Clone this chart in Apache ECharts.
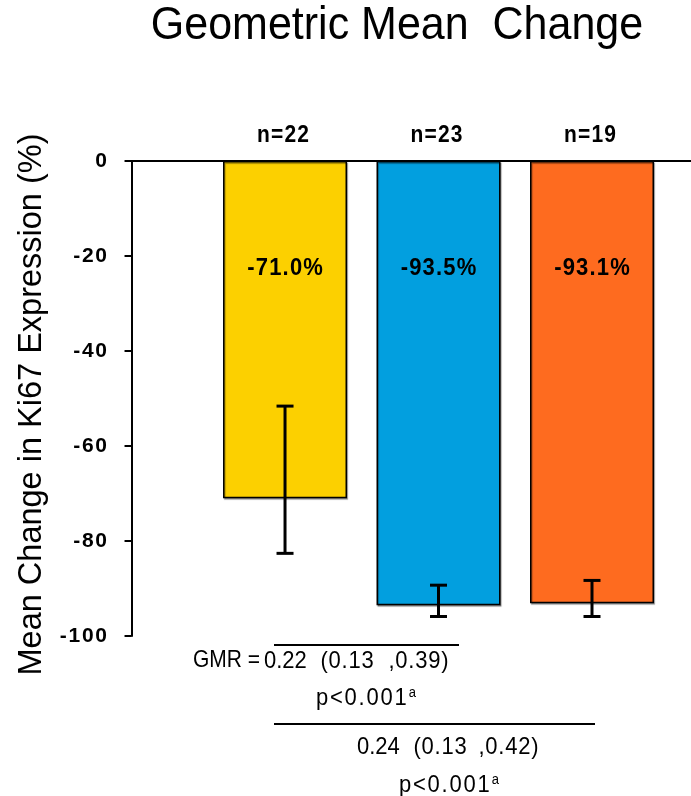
<!DOCTYPE html>
<html><head><meta charset="utf-8">
<script src="https://cdn.jsdelivr.net/npm/echarts@6.0.0/dist/echarts.min.js"></script>
<style>html,body{margin:0;padding:0;background:#fff}#c{width:691px;height:796px}</style>
</head><body><div id="c"></div>
<script>
// ---- data ----
const groupPositions = [1, 2, 3];
const meanChange = [-71.0, -93.5, -93.1];
const errUpper = [-51.6, -89.3, -88.3];
const errLower = [-82.6, -95.9, -95.9];
const sampleSizes = [22, 23, 19];
const barColors = ['#FCD000', '#029FDF', '#FE6B1F'];
const yTickValues = [0, -20, -40, -60, -80, -100];
const titleText = 'Geometric Mean  Change';
const yAxisTitle = 'Mean Change in Ki67 Expression (%)';
const gmr1 = ['GMR =', '0.22', '(0.13', ',0.39)'];
const gmr2 = ['0.24', '(0.13', ',0.42)'];
const pText = 'p<0.001';
const pSup = 'a';

// ---- helpers ----
const FONT = "'Liberation Sans', Arial, sans-serif";
const STRETCH = 1.12;
function spaced(str, key) {
  return str.split('').map(c => '{' + key + '|' + c + '}').join('');
}
function richStyle(size, weight, ls) {
  return { fontSize: size, fontWeight: weight, fontFamily: FONT, color: '#000', padding: [0, ls / 2] };
}

const chart = echarts.init(document.getElementById('c'), null, { renderer: 'canvas' });

const barData = groupPositions.map((x, i) => ({ value: [x, meanChange[i]], itemStyle: { color: barColors[i] } }));
const errData = groupPositions.map((x, i) => [x, errUpper[i], errLower[i]]);
const labelData = groupPositions.map((x, i) => [x, meanChange[i], sampleSizes[i]]);

function annText(x, y, text, ls, size) {
  return {
    type: 'text', x: x, y: y, scaleY: STRETCH,
    style: { text: spaced(text, 'a'), rich: { a: richStyle(size || 22, 'normal', ls || 0) }, align: 'left', verticalAlign: 'middle' }
  };
}
function pAnn(x, y) {
  return {
    type: 'text', x: x, y: y, scaleY: STRETCH,
    style: {
      text: spaced(pText, 'p') + '{sup|' + pSup + '}',
      rich: { p: richStyle(22, 'normal', 1.8), sup: { fontSize: 13, fontFamily: FONT, color: '#000', verticalAlign: 'top', padding: [0, 0, 0, 1] } },
      align: 'left', verticalAlign: 'middle'
    }
  };
}

const option = {
  backgroundColor: '#fff',
  animation: false,
  grid: { left: 130, right: 0, top: 161, bottom: 160 },
  xAxis: {
    type: 'value', min: -0.01, max: 3.645, position: 'top',
    axisLine: { show: true, onZero: false, lineStyle: { color: '#000', width: 2 } },
    axisTick: { show: false }, axisLabel: { show: false }, splitLine: { show: false }
  },
  yAxis: {
    type: 'value', min: -100, max: 0, interval: 20,
    name: yAxisTitle, nameLocation: 'middle', nameGap: 76, nameRotate: 90,
    nameTextStyle: { fontSize: 32.5, fontFamily: FONT, color: '#000', padding: [0, 12, 0, 0] },
    axisLine: { show: true, lineStyle: { color: '#000', width: 2 } },
    axisTick: { show: true, length: 7, lineStyle: { color: '#000', width: 2 } },
    axisLabel: {
      margin: 23, fontSize: 21, fontWeight: 'bold', fontFamily: FONT, color: '#000',
      formatter: v => yTickValues.includes(v) ? String(v).split('').join('\u200A') : ''
    },
    splitLine: { show: false }
  },
  series: [
    {
      type: 'bar', data: barData, barWidth: 124, z: 2,
      itemStyle: { borderColor: '#000', borderWidth: 1.5, shadowColor: 'rgba(0,0,0,0.35)', shadowOffsetX: 1, shadowOffsetY: 1.5, shadowBlur: 1 }
    },
    {
      type: 'custom', data: errData, z: 5,
      renderItem: function (params, api) {
        const x = api.value(0);
        const pt = api.coord([x, api.value(1)]);
        const pb = api.coord([x, api.value(2)]);
        const cap = 8.5;
        const st = { stroke: '#000', lineWidth: 3 };
        return {
          type: 'group', children: [
            { type: 'line', shape: { x1: pt[0], y1: pt[1], x2: pb[0], y2: pb[1] }, style: st },
            { type: 'line', shape: { x1: pt[0] - cap, y1: pt[1], x2: pt[0] + cap, y2: pt[1] }, style: st },
            { type: 'line', shape: { x1: pb[0] - cap, y1: pb[1], x2: pb[0] + cap, y2: pb[1] }, style: st }
          ]
        };
      }
    },
    {
      type: 'custom', data: labelData, z: 6,
      renderItem: function (params, api) {
        const x = api.value(0);
        const p0 = api.coord([x, 0]);
        const pct = api.value(1).toFixed(1) + '%';
        const n = 'n=' + api.value(2);
        return {
          type: 'group', children: [
            { type: 'text', x: p0[0] - 2, y: p0[1] - 25, scaleY: STRETCH, style: { text: spaced(n, 'b'), rich: { b: richStyle(21, 'bold', 1.2) }, align: 'center', verticalAlign: 'middle' } },
            { type: 'text', x: p0[0], y: p0[1] + 107, scaleY: STRETCH, style: { text: spaced(pct, 'b'), rich: { b: richStyle(22, 'bold', 1.2) }, align: 'center', verticalAlign: 'middle' } }
          ]
        };
      }
    }
  ],
  graphic: [
    {
      type: 'text', x: 397, y: 26, scaleY: 1.08,
      style: { text: titleText, fontSize: 43, fontFamily: FONT, fill: '#000', align: 'center', verticalAlign: 'middle' }
    },
    { type: 'line', shape: { x1: 274, y1: 645, x2: 459, y2: 645 }, style: { stroke: '#000', lineWidth: 2 } },
    annText(193, 661, gmr1[0], 0, 21),
    annText(264, 661, gmr1[1]),
    annText(320, 661, gmr1[2], 0.8),
    annText(388, 661, gmr1[3], 0.8),
    pAnn(315, 698),
    { type: 'line', shape: { x1: 274, y1: 724, x2: 595, y2: 724 }, style: { stroke: '#000', lineWidth: 2 } },
    annText(357, 747, gmr2[0]),
    annText(413, 747, gmr2[1], 0.8),
    annText(478, 747, gmr2[2], 0.8),
    pAnn(398, 785)
  ]
};
chart.setOption(option);
</script>
</body></html>
